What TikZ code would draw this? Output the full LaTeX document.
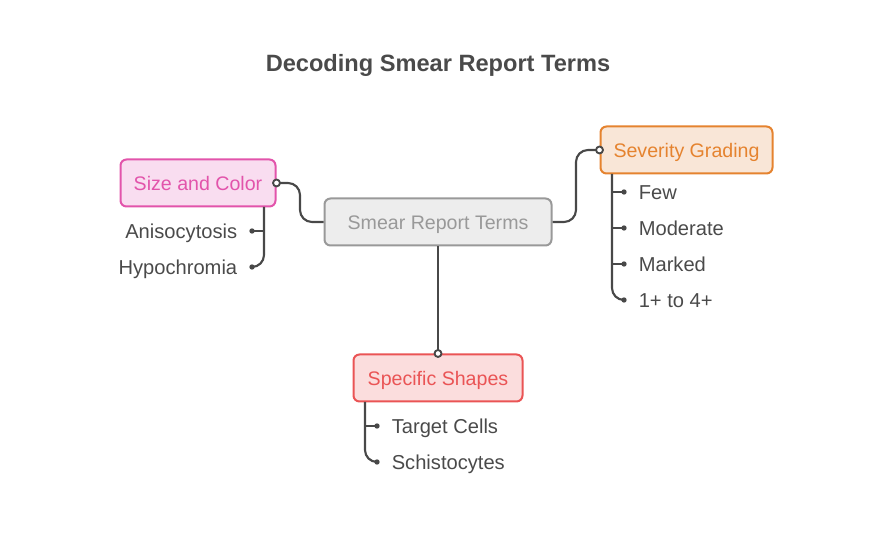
\documentclass[tikz,border=0pt]{standalone}
\usepackage{fontspec}
\setmainfont{Liberation Sans}
\usetikzlibrary{positioning}

\definecolor{linecol}{HTML}{484848}
\definecolor{textcol}{HTML}{4A4A4A}
\definecolor{pinkline}{HTML}{E254AB}
\definecolor{pinkfill}{HTML}{F9DDF0}
\definecolor{orangeline}{HTML}{E5832F}
\definecolor{orangefill}{HTML}{F9E6D7}
\definecolor{redline}{HTML}{EA5455}
\definecolor{redfill}{HTML}{FBDDDD}
\definecolor{greyline}{HTML}{999999}
\definecolor{greyfill}{HTML}{EDEDED}

\tikzset{
  termbox/.style={rectangle,rounded corners=4.5pt,line width=1.5pt,inner sep=0pt,
    minimum height=35.25pt,font=\fontsize{14.7}{16}\selectfont,text height=14.5pt,text depth=3pt},
  link/.style={draw=linecol,line width=1.6pt,rounded corners=9pt},
  opendot/.style={circle,draw=linecol,fill=white,line width=1.4pt,inner sep=0pt,minimum size=5.2pt},
  itemdot/.style={circle,fill=linecol,inner sep=0pt,minimum size=4pt},
  itemtext/.style={inner sep=0pt,text=textcol,font=\fontsize{15.1}{16}\selectfont,text height=14.5pt,text depth=3pt}
}

\begin{document}
\begin{tikzpicture}[x=0.75pt,y=-0.75pt]
\useasboundingbox (0,0) rectangle (876,552);

\node [inner sep=0pt,text=textcol,font=\fontsize{17.7}{20}\selectfont\bfseries] (title) at (438,65) {Decoding Smear Report Terms};

\node [termbox,draw=greyline,fill=greyfill,text=greyline,minimum width=170.25pt] (terms) at (438,222) {Smear Report Terms};
\node [termbox,draw=pinkline,fill=pinkfill,text=pinkline,minimum width=116.25pt] (size) at (198,183) {Size and Color};
\node [termbox,draw=orangeline,fill=orangefill,text=orangeline,minimum width=129pt] (severity) at (686.5,150) {Severity Grading};
\node [termbox,draw=redline,fill=redfill,text=redline,minimum width=126.75pt] (shapes) at (438,378) {Specific Shapes};

% dots in front of the items
\node [itemdot] (aniso) at (252,231) {};
\node [itemdot] (hypo) at (252,267) {};
\node [itemdot] (few) at (624,192) {};
\node [itemdot] (moderate) at (624,228) {};
\node [itemdot] (marked) at (624,264) {};
\node [itemdot] (grades) at (624,300) {};
\node [itemdot] (target) at (377,426) {};
\node [itemdot] (schisto) at (377,462) {};

\node [itemtext,left=8.7pt of aniso] (anisotext) {Anisocytosis};
\node [itemtext,left=8.7pt of hypo] (hypotext) {Hypochromia};
\node [itemtext,right=8.7pt of few] (fewtext) {Few};
\node [itemtext,right=8.7pt of moderate] (moderatetext) {Moderate};
\node [itemtext,right=8.7pt of marked] (markedtext) {Marked};
\node [itemtext,right=8.7pt of grades] (gradestext) {1+ to 4+};
\node [itemtext,right=8.7pt of target] (targettext) {Target Cells};
\node [itemtext,right=8.7pt of schisto] (schistotext) {Schistocytes};

% where the trunks leave the boxes
\coordinate (sizefoot) at (264,207);
\coordinate (severityfoot) at (612,174);
\coordinate (shapesfoot) at (365,402);

% branches
\draw [link] (terms.west) -- (300,222) -- (300,183) -- (size.east);
\draw [link] (terms.east) -- (576,222) -- (576,150) -- (severity.west);
\draw [link] (terms.south) -- (shapes.north);

% trunks
\draw [link] (sizefoot) -- (264,267) -- (hypo.center);
\draw [link] (264,231) -- (aniso.center);
\draw [link] (severityfoot) -- (612,300) -- (grades.center);
\draw [link] (612,192) -- (few.center);
\draw [link] (612,228) -- (moderate.center);
\draw [link] (612,264) -- (marked.center);
\draw [link] (shapesfoot) -- (365,462) -- (schisto.center);
\draw [link] (365,426) -- (target.center);

% open dots on top of the box edges
\node [opendot] (sizeend) at (size.east) {};
\node [opendot] (severityend) at (severity.west) {};
\node [opendot] (shapesend) at (shapes.north) {};
\end{tikzpicture}
\end{document}
